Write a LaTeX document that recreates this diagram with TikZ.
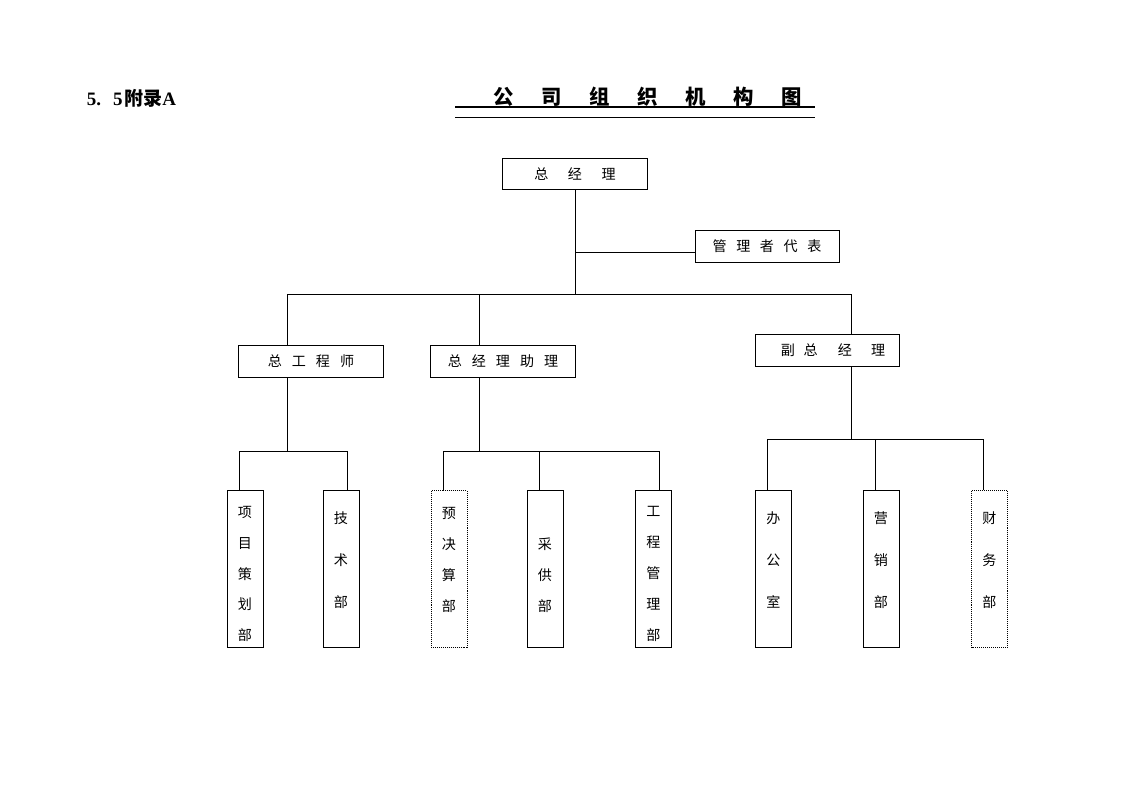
\documentclass[tikz,border=0pt]{standalone}
\usepackage{fontspec}
\setmainfont{Liberation Serif}
\newfontfamily\cjk{Noto Sans CJK SC}
\usetikzlibrary{positioning}
\newcommand\tgap{\hspace{0.69cm}}
\tikzset{
  box/.style={draw, line width=0.7pt, rectangle, minimum width=3.6cm, minimum height=0.78cm, inner sep=0pt, font=\cjk\fontsize{10}{12}\selectfont},
  dept/.style={draw, line width=0.7pt, rectangle, minimum width=0.9cm, minimum height=3.9cm, inner sep=0pt},
  deptdot/.style={dept, dash pattern=on 0.7pt off 0.7pt},
  vtext/.style={align=center, inner sep=0pt, font=\cjk\fontsize{10}{22}\selectfont},
  vtextw/.style={align=center, inner sep=0pt, font=\cjk\fontsize{10}{30}\selectfont},
  conn/.style={line width=0.7pt},
}

\begin{document}
\begin{tikzpicture}[x=0.025cm, y=-0.025cm]
    \useasboundingbox (0,0) rectangle (1122,793);

    % heading and title
    \node[inner sep=0pt, font=\bfseries\fontsize{13.5}{15}\selectfont] (appx) at (131.5,98) {5.\hspace{0.3cm}5\hspace{0.05cm}{\cjk 附录}A};
    \node[inner sep=0pt, font=\cjk\bfseries\fontsize{14.5}{16}\selectfont] (title) at (647.5,97)
        {公\tgap 司\tgap 组\tgap 织\tgap 机\tgap 构\tgap 图};
    \draw[line width=1.4pt] (455,107) -- (815,107);
    \draw[line width=0.7pt] (455,117) -- (815,117);

    % upper levels
    \node[box] (zjl) at (575,174) {总\hspace{0.49cm}经\hspace{0.49cm}理\hspace{0.32cm}};
    \node[box] (glzdb) at (767,246.5) {管\hspace{0.24cm}理\hspace{0.24cm}者\hspace{0.24cm}代\hspace{0.24cm}表\hspace{0.38cm}};
    \node[box] (zgcs) at (311,361.5) {总\hspace{0.25cm}工\hspace{0.25cm}程\hspace{0.25cm}师\hspace{0.2cm}};
    \node[box] (zjlzl) at (503,361.5) {总\hspace{0.25cm}经\hspace{0.25cm}理\hspace{0.25cm}助\hspace{0.25cm}理};
    \node[box] (fzjl) at (827,350.5) {\hspace{0.3cm}副\hspace{0.22cm}总\hspace{0.5cm}经\hspace{0.48cm}理};

    % departments
    \node[dept] (xmch) at (245,569) {};
    \node[dept] (jsb) at (341,569) {};
    \node[deptdot] (ysjb) at (449,569) {};
    \node[dept] (cgb) at (545,569) {};
    \node[dept] (gcglb) at (653.5,569) {};
    \node[dept] (bgs) at (773.5,569) {};
    \node[dept] (yxb) at (881,569) {};
    \node[deptdot] (cwb) at (989.5,569) {};

    \node[vtext] (xmch-t) at (245,574) {项\\目\\策\\划\\部};
    \node[vtextw] (jsb-t) at (341,560) {技\\术\\部};
    \node[vtext] (ysjb-t) at (449,560) {预\\决\\算\\部};
    \node[vtext] (cgb-t) at (545,575) {采\\供\\部};
    \node[vtext] (gcglb-t) at (653.5,574) {工\\程\\管\\理\\部};
    \node[vtextw] (bgs-t) at (773.5,560) {办\\公\\室};
    \node[vtextw] (yxb-t) at (881,560) {营\\销\\部};
    \node[vtextw] (cwb-t) at (989.5,560) {财\\务\\部};

    % connectors
    \coordinate (bus) at (575,294);
    \coordinate (j1) at (575,252);
    \coordinate (busL) at (287,294);
    \coordinate (busM) at (479,294);
    \coordinate (busR) at (851,294);
    \draw[conn] (zjl.south) -- (bus);
    \draw[conn] (j1) -- (j1 -| glzdb.west);
    \draw[conn] (busL |- zgcs.north) -- (busL) -- (busR) -- (busR |- fzjl.north);
    \draw[conn] (busM) -- (busM |- zjlzl.north);

    % under zgcs
    \draw[conn] (287,0 |- zgcs.south) -- (287,451);
    \draw[conn] (239,0 |- xmch.north) -- (239,451) -- (347,451) -- (347,0 |- jsb.north);
    % under zjlzl
    \draw[conn] (479,0 |- zjlzl.south) -- (479,451);
    \draw[conn] (443,0 |- ysjb.north) -- (443,451) -- (659,451) -- (659,0 |- gcglb.north);
    \draw[conn] (539,451) -- (539,0 |- cgb.north);
    % under fzjl
    \draw[conn] (851,0 |- fzjl.south) -- (851,439);
    \draw[conn] (767,0 |- bgs.north) -- (767,439) -- (983,439) -- (983,0 |- cwb.north);
    \draw[conn] (875,439) -- (875,0 |- yxb.north);

\end{tikzpicture}
\end{document}
